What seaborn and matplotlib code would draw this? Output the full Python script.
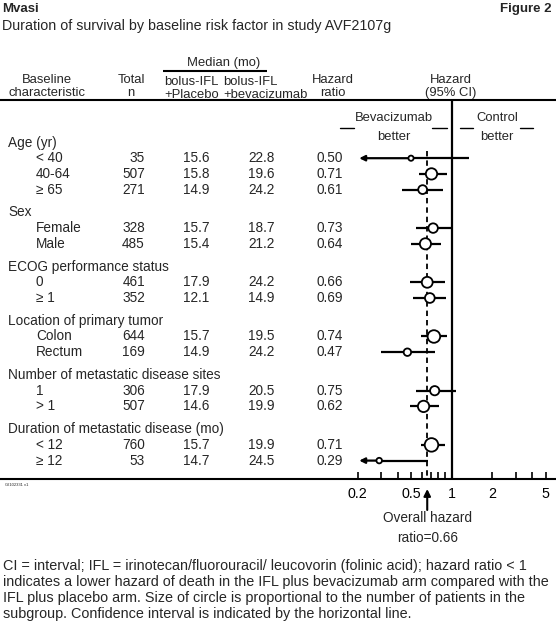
import numpy as np
import pandas as pd
import matplotlib
matplotlib.use("Agg")
import matplotlib.pyplot as plt
import seaborn as sns
from matplotlib import font_manager
from matplotlib.ticker import FixedLocator, NullFormatter

# ---------------- data ----------------
groups = ["Age (yr)", "Sex", "ECOG performance status", "Location of primary tumor",
          "Number of metastatic disease sites", "Duration of metastatic disease (mo)"]
subgroups = [["< 40", "40-64", "≥ 65"], ["Female", "Male"], ["0", "≥ 1"],
             ["Colon", "Rectum"], ["1", "> 1"], ["< 12", "≥ 12"]]
total_n = [35, 507, 271, 328, 485, 461, 352, 644, 169, 306, 507, 760, 53]
median_placebo = [15.6, 15.8, 14.9, 15.7, 15.4, 17.9, 12.1, 15.7, 14.9, 17.9, 14.6, 15.7, 14.7]
median_bev = [22.8, 19.6, 24.2, 18.7, 21.2, 24.2, 14.9, 19.5, 24.2, 20.5, 19.9, 19.9, 24.5]
hazard_ratio = [0.50, 0.71, 0.61, 0.73, 0.64, 0.66, 0.69, 0.74, 0.47, 0.75, 0.62, 0.71, 0.29]
ci_low = [0.18, 0.57, 0.43, 0.54, 0.50, 0.49, 0.52, 0.59, 0.30, 0.54, 0.49, 0.59, 0.12]
ci_high = [1.35, 0.93, 0.87, 1.00, 0.84, 0.90, 0.91, 0.93, 0.75, 1.08, 0.81, 0.90, 0.67]
overall_hr = 0.66
x_ticks = [0.2, 0.5, 1, 2, 5]
x_tick_labels = ["0.2", "0.5", "1", "2", "5"]
x_minor_ticks = [0.3, 0.4, 0.6, 0.7, 0.8, 0.9, 3, 4]

# ---------------- style ----------------
sns.set_style("white")
installed = {f.name for f in font_manager.fontManager.ttflist}
narrow = "Liberation Sans Narrow" in installed
main_font = "Liberation Sans Narrow" if narrow else "Liberation Sans"
plt.rcParams["font.family"] = [main_font, "DejaVu Sans"]
k_sz = 1.15 if narrow else 1.0
FS = 9.8 * k_sz        # table text
FS_HEAD = 9.4 * k_sz   # column headers
FS_SUB = 10.3 * k_sz   # subtitle
FS_FOOT = 10.4 * k_sz  # footnote
FS_TICK = 10.3 * k_sz
FS_TITLE = 9.5 * k_sz

W, H = 556, 629
fig = plt.figure(figsize=(W / 100, H / 100), dpi=100)
fig.patch.set_facecolor("white")

bg = fig.add_axes([0, 0, 1, 1])
bg.set_xlim(0, W)
bg.set_ylim(H, 0)
bg.axis("off")

# ---------------- layout ----------------
row_y0, pitch, gap = 142.5, 15.7, 7.1
header_top, axis_y = 100, 479
x0px, x1px = 357.5, 545.5  # pixel positions of 0.2 and 5

group_y, sub_y, sub_labels = [], [], []
k = 0
for g, (grp, subs) in enumerate(zip(groups, subgroups)):
    group_y.append(row_y0 + k * pitch + g * gap)
    k += 1
    for s in subs:
        sub_y.append(row_y0 + k * pitch + g * gap)
        sub_labels.append(s)
        k += 1

# ---------------- titles ----------------
bg.text(2, 9, "Mvasi", fontsize=FS_TITLE, fontweight="bold", ha="left", va="center")
bg.text(552, 9, "Figure 2", fontsize=FS_TITLE, fontweight="bold", ha="right", va="center")
bg.text(2, 26, "Duration of survival by baseline risk factor in study AVF2107g",
        fontsize=FS_SUB, ha="left", va="center")

# ---------------- column headers ----------------
bg.text(47, 80, "Baseline", fontsize=FS_HEAD, ha="center", va="center")
bg.text(47, 93.3, "characteristic", fontsize=FS_HEAD, ha="center", va="center")
bg.text(131, 80, "Total", fontsize=FS_HEAD, ha="center", va="center")
bg.text(131, 93.3, "n", fontsize=FS_HEAD, ha="center", va="center")
bg.text(224, 63.3, "Median (mo)", fontsize=FS_HEAD, ha="center", va="center")
bg.plot([163, 267], [70.7, 70.7], color="black", lw=1.5, solid_capstyle="butt")
bg.text(164, 81.7, "bolus-IFL", fontsize=FS_HEAD, ha="left", va="center")
bg.text(164, 95, "+Placebo", fontsize=FS_HEAD, ha="left", va="center")
bg.text(223, 81.7, "bolus-IFL", fontsize=FS_HEAD, ha="left", va="center")
bg.text(223, 95, "+bevacizumab", fontsize=FS_HEAD, ha="left", va="center")
bg.text(333, 80, "Hazard", fontsize=FS_HEAD, ha="center", va="center")
bg.text(333, 93.3, "ratio", fontsize=FS_HEAD, ha="center", va="center")
bg.text(451, 80, "Hazard", fontsize=FS_HEAD, ha="center", va="center")
bg.text(451, 93.3, "(95% CI)", fontsize=FS_HEAD, ha="center", va="center")

bg.plot([0, W], [header_top, header_top], color="black", lw=1.5)
bg.plot([0, W], [axis_y, axis_y], color="black", lw=1.5)

bg.text(394, 118, "Bevacizumab", fontsize=FS_HEAD, ha="center", va="center")
bg.text(394, 137, "better", fontsize=FS_HEAD, ha="center", va="center")
bg.text(497, 118, "Control", fontsize=FS_HEAD, ha="center", va="center")
bg.text(497, 137, "better", fontsize=FS_HEAD, ha="center", va="center")
for xa, xb in [(340, 354), (432, 447), (460, 473), (520, 533)]:
    bg.plot([xa, xb], [128, 128], color="black", lw=1.0)

# ---------------- table text ----------------
for grp, y in zip(groups, group_y):
    bg.text(8, y, grp, fontsize=FS, ha="left", va="center")
for i, y in enumerate(sub_y):
    bg.text(36, y, sub_labels[i], fontsize=FS, ha="left", va="center")
    bg.text(145, y, f"{total_n[i]}", fontsize=FS, ha="right", va="center")
    bg.text(196.5, y, f"{median_placebo[i]:.1f}", fontsize=FS, ha="center", va="center")
    bg.text(261.5, y, f"{median_bev[i]:.1f}", fontsize=FS, ha="center", va="center")
    bg.text(330, y, f"{hazard_ratio[i]:.2f}", fontsize=FS, ha="center", va="center")

bg.text(5, 485, "GI102331 v1", fontsize=3, ha="left", va="center")

# ---------------- forest axes ----------------
ax = fig.add_axes([x0px / W, (H - axis_y) / H, (x1px - x0px) / W, (axis_y - header_top) / H])
ax.set_xscale("log")
xmin, xmax = x_ticks[0], x_ticks[-1]
ax.set_xlim(xmin, xmax)
ax.set_ylim(axis_y, header_top)
ax.patch.set_alpha(0)
for sp in ax.spines.values():
    sp.set_visible(False)
ax.xaxis.set_major_locator(FixedLocator(x_ticks))
ax.set_xticklabels(x_tick_labels, fontsize=FS_TICK)
ax.xaxis.set_minor_locator(FixedLocator(x_minor_ticks))
ax.xaxis.set_minor_formatter(NullFormatter())
ax.tick_params(axis="x", which="both", direction="in", length=5, width=1.2,
               pad=6, bottom=True, colors="black")
ax.set_yticks([])
ax.grid(False)

ax.axvline(1, color="black", lw=1.6, zorder=2)
ax.vlines(overall_hr, sub_y[0] - 7, axis_y, color="black", lw=1.3,
          linestyles=(0, (3, 2.2)), zorder=2)

for i, y in enumerate(sub_y):
    if ci_low[i] < xmin:
        ax.hlines(y, hazard_ratio[i], ci_high[i], color="black", lw=1.6, zorder=3)
        ax.annotate("", xy=(xmin * 1.03, y), xytext=(hazard_ratio[i], y),
                    arrowprops=dict(arrowstyle="-|>", lw=1.6, color="black",
                                    mutation_scale=8, shrinkA=0, shrinkB=0),
                    annotation_clip=False, zorder=3)
    else:
        ax.hlines(y, ci_low[i], ci_high[i], color="black", lw=1.6, zorder=3)

df = pd.DataFrame({"hr": hazard_ratio, "y": sub_y, "n": total_n})
sns.scatterplot(data=df, x="hr", y="y", size="n", sizes=(14, 95), size_norm=(35, 760),
                color="white", edgecolor="black", linewidth=1.3, legend=False,
                zorder=5, ax=ax, clip_on=False)
ax.set_xlabel("")
ax.set_ylabel("")
ax.set_xlim(xmin, xmax)
ax.set_ylim(axis_y, header_top)

ax.annotate("", xy=(overall_hr, 489), xytext=(overall_hr, 510),
            arrowprops=dict(arrowstyle="-|>", lw=1.5, color="black",
                            mutation_scale=10, shrinkA=0, shrinkB=0),
            annotation_clip=False)
ax.text(overall_hr, 518.5, "Overall hazard", fontsize=FS, ha="center", va="center", clip_on=False)
ax.text(overall_hr, 538, f"ratio={overall_hr:.2f}", fontsize=FS, ha="center", va="center", clip_on=False)

# ---------------- footnote ----------------
foot = ["CI = interval; IFL = irinotecan/fluorouracil/ leucovorin (folinic acid); hazard ratio < 1",
        "indicates a lower hazard of death in the IFL plus bevacizumab arm compared with the",
        "IFL plus placebo arm. Size of circle is proportional to the number of patients in the",
        "subgroup. Confidence interval is indicated by the horizontal line."]
for j, line in enumerate(foot):
    bg.text(3, 566.4 + 16 * j, line, fontsize=FS_FOOT, ha="left", va="center")

fig.savefig("out.png", dpi=100, facecolor="white")
